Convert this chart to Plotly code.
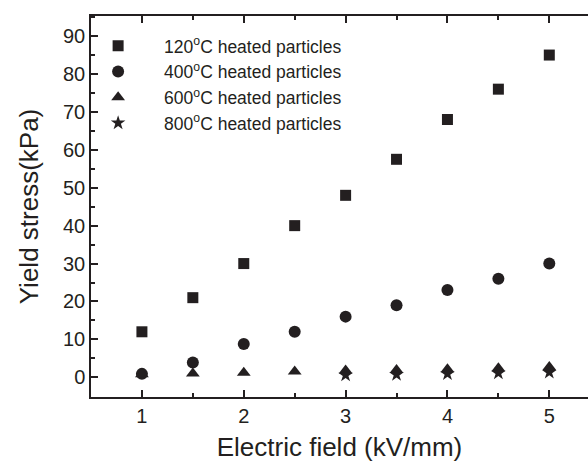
import plotly.graph_objects as go

field = [1, 1.5, 2, 2.5, 3, 3.5, 4, 4.5, 5]
s120 = [12, 21, 30, 40, 48, 57.5, 68, 76, 85]
s400 = [0.9, 3.9, 8.8, 12, 16, 19, 23, 26, 30]
s600 = [0.8, 1.0, 1.2, 1.5, 1.8, 1.9, 2.1, 2.4, 2.7]
field800 = [3, 3.5, 4, 4.5, 5]
s800 = [0.6, 0.7, 0.9, 1.1, 1.3]

names = ["120<sup>o</sup>C heated particles", "400<sup>o</sup>C heated particles",
         "600<sup>o</sup>C heated particles", "800<sup>o</sup>C heated particles"]

col = "#231f20"
fig = go.Figure()
fig.add_trace(go.Scatter(x=field, y=s120, mode="markers", name=names[0],
                         marker=dict(symbol="square", size=11, color=col)))
fig.add_trace(go.Scatter(x=field, y=s400, mode="markers", name=names[1],
                         marker=dict(symbol="circle", size=12, color=col)))
fig.add_trace(go.Scatter(x=field, y=s600, mode="markers", name=names[2],
                         marker=dict(symbol="triangle-up", size=12, color=col)))
fig.add_trace(go.Scatter(x=field800, y=s800, mode="markers", name=names[3],
                         marker=dict(symbol="star", size=11, color=col)))

axfont = dict(family="Liberation Sans, Arial, sans-serif", size=20, color=col)
fig.update_layout(
    width=588, height=462,
    margin=dict(l=91, r=0, t=16, b=65),
    paper_bgcolor="white", plot_bgcolor="white",
    font=dict(family="Liberation Sans, Arial, sans-serif", color=col),
    showlegend=True,
    legend=dict(x=-0.038, y=0.969, xanchor="left", yanchor="top",
                font=dict(size=17.5, color=col), bgcolor="rgba(0,0,0,0)",
                itemwidth=82, tracegroupgap=0),
    xaxis=dict(range=[0.5, 5.38], tickvals=[1, 2, 3, 4, 5], ticks="inside", ticklen=7,
               tickwidth=1.5, tickcolor=col, showline=True, linecolor=col, linewidth=1.5,
               mirror="allticks", showgrid=False, zeroline=False, tickfont=axfont,
               minor=dict(dtick=0.5, ticks="inside", ticklen=4, tickcolor=col, tickwidth=1.5, showgrid=False),
               title=dict(text="Electric field (kV/mm)", font=dict(size=26, color=col), standoff=12)),
    yaxis=dict(range=[-5.2, 95.3], tickvals=list(range(0, 91, 10)), ticks="inside", ticklen=7,
               tickwidth=1.5, tickcolor=col, showline=True, linecolor=col, linewidth=1.5,
               mirror=False, showgrid=False, zeroline=False, tickfont=axfont,
               minor=dict(dtick=5, ticks="inside", ticklen=4, tickcolor=col, tickwidth=1.5, showgrid=False),
               title=dict(text="Yield stress(kPa)", font=dict(size=26, color=col), standoff=17)),
)
fig.write_html("out.html")
